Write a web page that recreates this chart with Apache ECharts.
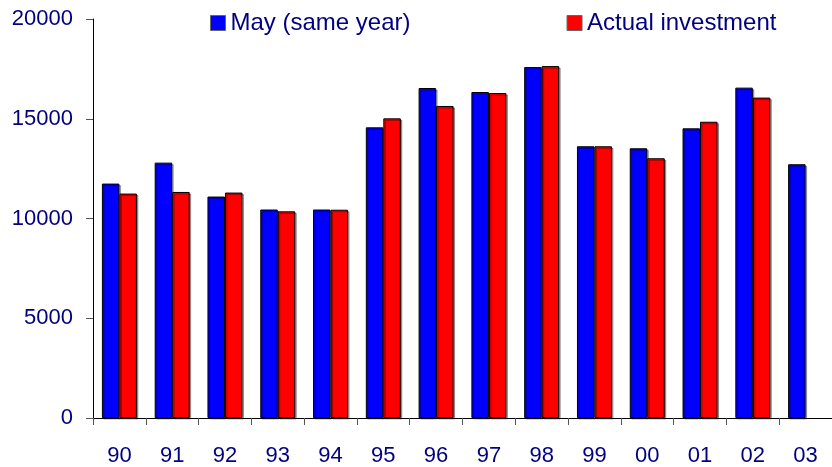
<!DOCTYPE html>
<html>
<head>
<meta charset="utf-8">
<script src="https://cdn.jsdelivr.net/npm/echarts@6/dist/echarts.min.js"></script>
<style>
  html, body { margin: 0; padding: 0; background: #fff; }
  #chart { width: 832px; height: 467px; }
</style>
</head>
<body>
<div id="chart"></div>
<script>
// years (two-digit labels)
var years = ["90", "91", "92", "93", "94", "95", "96", "97", "98", "99", "00", "01", "02", "03"];
// forecast made in May of the same year
var mayValues = [11750, 12800, 11100, 10450, 10450, 14570, 16540, 16340, 17590, 13620, 13520, 14520, 16560, 12720];
// actual investment (no figure yet for 03)
var actualValues = [11250, 11330, 11300, 10360, 10440, 15020, 15640, 16290, 17640, 13620, 13020, 14850, 16060, null];
// y tick labels
var yTicks = [0, 5000, 10000, 15000, 20000];

var textColor = "#000080";
var fontFamily = "Liberation Sans, Arial, sans-serif";
var barStyle = {
  borderColor: "#000",
  borderWidth: 1,
  shadowColor: "rgba(0,0,0,0.35)",
  shadowOffsetX: 1.5,
  shadowOffsetY: 1.5
};

var chart = echarts.init(document.getElementById("chart"));
chart.setOption({
  animation: false,
  backgroundColor: "#fff",
  textStyle: { fontFamily: fontFamily },
  legend: {
    left: 205,
    top: 6,
    itemWidth: 15,
    itemHeight: 15,
    itemGap: 156,
    icon: "rect",
    itemStyle: { borderColor: "#666", borderWidth: 1 },
    textStyle: { fontSize: 24, color: textColor, fontFamily: fontFamily },
    data: ["May (same year)", "Actual investment"]
  },
  grid: { left: 93, top: 19, bottom: 49, width: 744 },
  xAxis: {
    type: "category",
    data: years,
    axisLine: { lineStyle: { color: "#000", width: 1 } },
    axisTick: { show: true, length: 7, lineStyle: { color: "#555" } },
    axisLabel: { margin: 27, fontSize: 22, color: textColor }
  },
  yAxis: {
    type: "value",
    min: yTicks[0],
    max: yTicks[yTicks.length - 1],
    interval: yTicks[1] - yTicks[0],
    axisLine: { show: true, lineStyle: { color: "#000", width: 1 } },
    axisTick: { show: true, length: 7, lineStyle: { color: "#555" } },
    splitLine: { show: false },
    axisLabel: {
      margin: 20,
      fontSize: 22,
      color: textColor,
      formatter: function (v) { return String(v); }
    }
  },
  series: [
    {
      name: "May (same year)",
      type: "bar",
      data: mayValues,
      barWidth: 17.5,
      barGap: "0%",
      itemStyle: Object.assign({ color: "#0000ff" }, barStyle)
    },
    {
      name: "Actual investment",
      type: "bar",
      data: actualValues,
      barWidth: 17.5,
      barGap: "0%",
      itemStyle: Object.assign({ color: "#ff0000" }, barStyle)
    }
  ]
});
</script>
</body>
</html>
